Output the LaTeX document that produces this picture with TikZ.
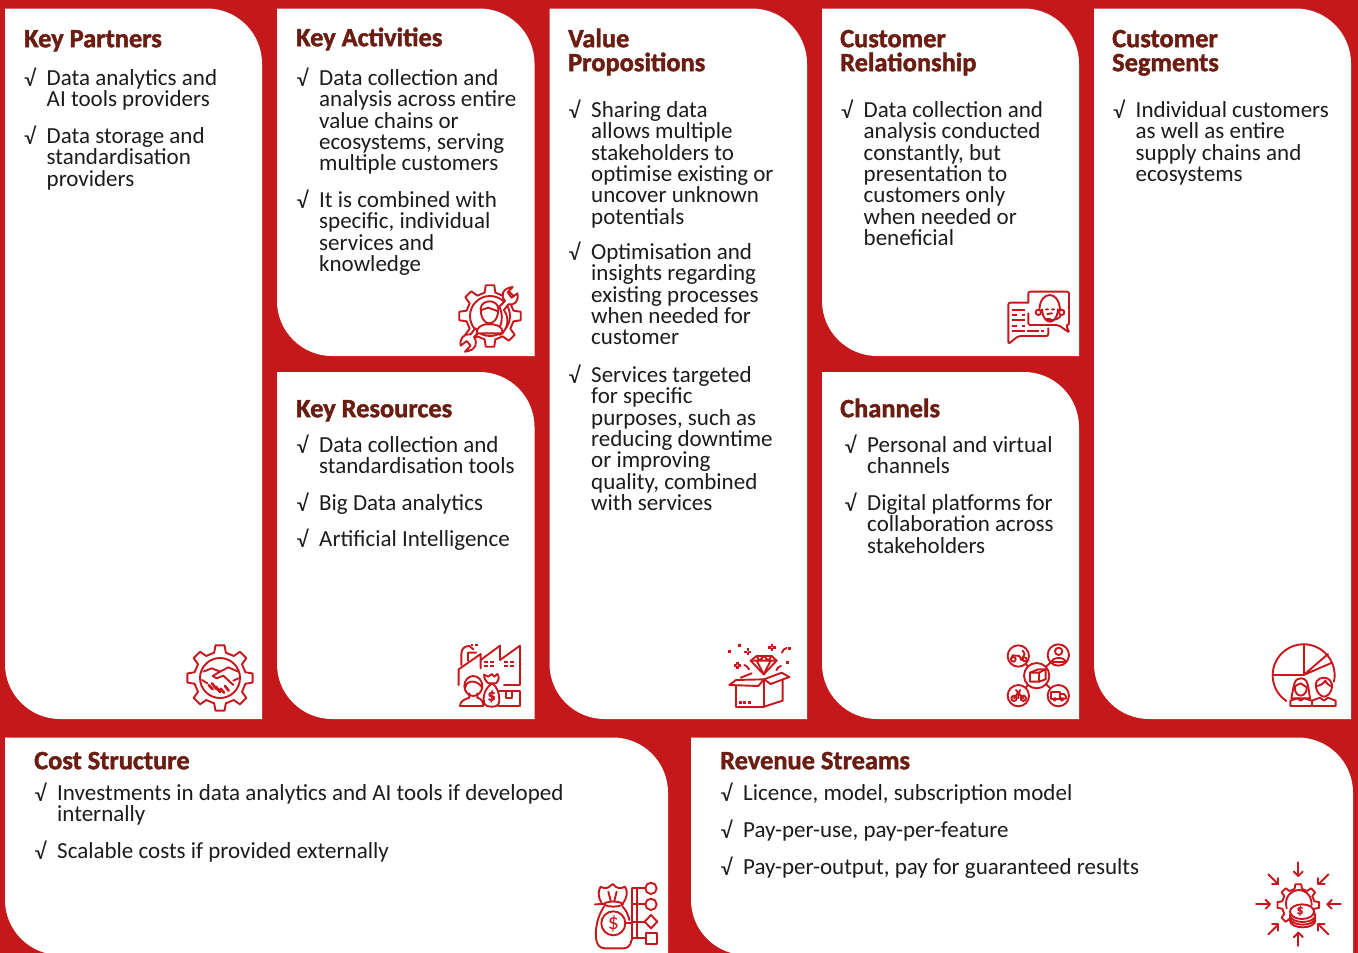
\documentclass[tikz,border=0pt]{standalone}
\usepackage{fontspec}
\setmainfont{Carlito}[BoldFeatures={FakeBold=1.6}]
\definecolor{canvasred}{HTML}{C5181A}
\definecolor{headbrown}{HTML}{6B1D12}
\definecolor{bodyink}{HTML}{1C1C1C}
\definecolor{iconred}{HTML}{C8171C}
\tikzset{
  headtext/.style={anchor=north west,inner sep=0pt,align=left,text=headbrown,font=\fontsize{26.4}{24}\selectfont\bfseries},
  itemtext/.style={anchor=north west,inner sep=0pt,align=left,text=bodyink,font=\fontsize{23}{21.4}\selectfont},
  ic/.style={draw=iconred,line width=1.9pt,line join=round,line cap=round},
  icf/.style={fill=iconred,draw=none},
  icw/.style={draw=iconred,fill=white,line width=1.9pt,line join=round,line cap=round},
}
% panel with rounded top-right and bottom-left corners
\newcommand\panel[5]{%
 \fill[white] (#1,#2) -- ({#3-#5},#2) .. controls ({#3-0.45*#5},#2) and (#3,{#2+0.45*#5}) .. (#3,{#2+#5})
   -- (#3,#4) -- ({#1+#5},#4) .. controls ({#1+0.45*#5},#4) and (#1,{#4-0.45*#5}) .. (#1,{#4-#5}) -- cycle;}
\newcommand\headnode[4]{\node[headtext] (#1) at (#2,{#3-19}) {\rule{0pt}{19pt}#4};}
\newcommand\itemnode[4]{%
 \node[itemtext] (#1c) at ({#2-22.5},{#3-17}) {\rule{0pt}{17pt}√};
 \node[itemtext] (#1) at (#2,{#3-17}) {\rule{0pt}{17pt}#4};}
% gear outline: centre is origin of current scope; r-out, r-in, teeth
\newcommand\gearline[3]{%
 \pgfmathsetmacro\gstep{360/#3}\pgfmathsetmacro\gq{\gstep/4}%
 \draw[ic] ({\gstep-\gq*0.7}:#1) \foreach \k in {1,...,#3}{
   -- ({\k*\gstep-\gq*0.7}:#1) -- ({\k*\gstep+\gq*0.7}:#1) -- ({\k*\gstep+\gq*1.15}:#2) -- ({\k*\gstep+\gstep-\gq*1.15}:#2)
 } -- cycle;}
\begin{document}
\begin{tikzpicture}[x=1pt,y=-1pt]
\useasboundingbox (0,0) rectangle (1358,953);
\fill[canvasred] (0,0) rectangle (1358,953);
\begin{scope}
\clip (0,0) rectangle (1358,953);
\panel{5}{8.5}{262}{719}{55}
\panel{277}{8.5}{534.5}{356}{55}
\panel{277}{372}{534.5}{719}{55}
\panel{549.5}{8.5}{807}{719}{55}
\panel{822}{8.5}{1079}{356}{55}
\panel{822}{372}{1079}{719}{55}
\panel{1094}{8.5}{1351}{719}{55}
\panel{5}{737.5}{668}{955}{55}
\panel{691}{737.5}{1353}{955}{55}
\end{scope}

% ---------- texts
\headnode{kp}{24}{47}{Key Partners}
\itemnode{kpa}{46.5}{85}{Data analytics and\\AI tools providers}
\itemnode{kpb}{46.5}{143}{Data storage and\\standardisation\\providers}

\headnode{ka}{296}{46}{Key Activities}
\itemnode{kaa}{319}{85}{Data collection and\\analysis across entire\\value chains or\\ecosystems, serving\\multiple customers}
\itemnode{kab}{319}{207}{It is combined with\\specific, individual\\services and\\knowledge}

\headnode{kr}{296}{417}{Key Resources}
\itemnode{kra}{319}{452}{Data collection and\\standardisation tools}
\itemnode{krb}{319}{510}{Big Data analytics}
\itemnode{krc}{319}{546}{Artificial Intelligence}

\headnode{vp}{568}{47}{Value\\Propositions}
\itemnode{vpa}{591}{117}{Sharing data\\allows multiple\\stakeholders to\\optimise existing or\\uncover unknown\\potentials}
\itemnode{vpb}{591}{259}{Optimisation and\\insights regarding\\existing processes\\when needed for\\customer}
\itemnode{vpc}{591}{382}{Services targeted\\for specific\\purposes, such as\\reducing downtime\\or improving\\quality, combined\\with services}

\headnode{cr}{840}{47}{Customer\\Relationship}
\itemnode{cra}{863.5}{117}{Data collection and\\analysis conducted\\constantly, but\\presentation to\\customers only\\when needed or\\beneficial}

\headnode{ch}{840}{417}{Channels}
\itemnode{cha}{867}{452}{Personal and virtual\\channels}
\itemnode{chb}{867}{510}{Digital platforms for\\collaboration across\\stakeholders}

\headnode{cs}{1112}{47}{Customer\\Segments}
\itemnode{csa}{1135.5}{117}{Individual customers\\as well as entire\\supply chains and\\ecosystems}

\headnode{co}{34}{769}{Cost Structure}
\itemnode{coa}{57}{800}{Investments in data analytics and AI tools if developed\\internally}
\itemnode{cob}{57}{858}{Scalable costs if provided externally}

\headnode{re}{720}{769}{Revenue Streams}
\itemnode{rea}{743}{800}{Licence, model, subscription model}
\itemnode{reb}{743}{837}{Pay-per-use, pay-per-feature}
\itemnode{rec}{743}{874}{Pay-per-output, pay for guaranteed results}

% ---------- icon: gear + handshake
\begin{scope}[shift={(220,678)}]
 \gearline{33}{26}{8}
 \draw[ic] (0,0) circle (20);
\end{scope}
\begin{scope}[shift={(170,630)},x=0.3333pt,y=-0.3333pt]
 \draw[ic] (100,125) -- (125,115) -- (150,125) -- (175,112) -- (205,125);
 \draw[ic] (150,125) -- (128,138) -- (140,145) -- (160,137) -- (190,165);
 \draw[ic] (205,145) -- (190,152);
 \draw[ic] (96,150) -- (112,160);
 \draw[ic,line width=2.6pt] (116,165) -- (128,178) (126,160) -- (140,178) (138,170) -- (150,186) (152,176) -- (162,188) (165,168) -- (176,182);
\end{scope}

% ---------- icon: gear, wrench, person
\begin{scope}[shift={(490,316)}]
 \gearline{31}{24}{8}
 \draw[ic,fill=white] (0,0) circle (20);
\end{scope}
\begin{scope}[shift={(440,275)},x=0.3333pt,y=-0.3333pt]
 \draw[icw] (178,95) -- (195,78) .. controls (180,60) and (190,42) .. (208,38) -- (218,36) -- (203,52) -- (215,68) -- (232,55) .. controls (238,80) and (222,92) .. (205,88) -- (192,105) .. controls (215,140) and (195,170) .. (180,180) -- (170,170) .. controls (188,150) and (190,120) .. (178,95) -- cycle;
 \draw[icw] (118,170) -- (102,186) .. controls (115,205) and (105,225) .. (85,228) -- (75,230) -- (92,212) -- (80,198) -- (62,212) .. controls (58,190) and (72,175) .. (92,178) -- (106,160) -- cycle;
 \draw[icw] (122,100) .. controls (125,72) and (172,72) .. (175,100) .. controls (175,130) and (162,145) .. (148,145) .. controls (134,145) and (122,130) .. (122,100) -- cycle;
 \draw[ic] (124,105) -- (145,98) -- (172,108);
 \draw[icw] (110,175) .. controls (110,155) and (125,152) .. (135,148) -- (160,148) .. controls (175,152) and (188,155) .. (188,175) -- cycle;
\end{scope}

% ---------- icon: factory, person, bag, box
\begin{scope}[shift={(440,630)},x=0.3333pt,y=-0.3333pt]
 \draw[ic] (56,165) -- (56,118) -- (122,72) -- (122,115);
 \draw[ic] (122,90) -- (180,47) -- (180,90) -- (240,47) -- (240,165) -- (192,165);
 \draw[ic] (64,105) -- (64,72) .. controls (64,55) and (75,48) .. (88,48) -- (100,58) (84,92) -- (84,68) -- (108,68);
 \foreach \p in {(96,45),(109,45)} \fill[iconred] \p ++(-3.5,-3.5) rectangle ++(7,7);
 \foreach \p in {(139,97),(157,97),(139,109),(157,109),(198,97),(216,97),(198,109),(216,109)} \fill[iconred] \p ++(-6,-3) rectangle ++(12,6);
 \draw[icw] (175,183) rectangle (240,228);
 \draw[ic] (198,183) -- (198,205) -- (215,205) -- (215,183);
 \draw[ic] (100,168) circle (27 and 30);
 \draw[ic] (76,172) .. controls (80,148) and (112,150) .. (126,172);
 \draw[ic] (88,190) -- (88,203) .. controls (75,208) and (60,212) .. (60,228) -- (130,228) (112,190) -- (112,203) .. controls (122,206) and (130,212) .. (130,228);
 \draw[icw] (155,161) .. controls (135,175) and (127,200) .. (132,218) .. controls (135,228) and (145,230) .. (158,230) .. controls (172,230) and (178,222) .. (178,210) .. controls (178,190) and (172,172) .. (158,161) -- cycle;
 \draw[ic] (146,160) -- (168,160) .. controls (178,150) and (178,140) .. (172,132) -- (163,140) -- (155,132) -- (145,140) -- (132,134) .. controls (132,145) and (138,155) .. (146,160);
 \node[inner sep=0pt,text=iconred,font=\fontsize{16}{16}\selectfont\bfseries] (bagdollar) at (155,199) {\$};
\end{scope}

% ---------- icon: open box + diamond
\begin{scope}[shift={(710,630)},x=0.3333pt,y=-0.3333pt]
 \draw[ic] (78,168) -- (78,230) -- (162,230) -- (162,148);
 \draw[ic] (162,230) -- (218,212) -- (218,150);
 \draw[ic] (58,165) -- (78,150) -- (162,148) -- (145,168) -- cycle;
 \draw[ic] (162,148) -- (215,128) -- (238,141) -- (182,162) -- cycle;
 \draw[ic] (92,143) -- (125,130);
 \foreach \p in {(91,217),(104,217),(118,217)} \fill[iconred] \p ++(-4,-4) rectangle ++(8,8);
 \draw[ic] (122,92) -- (140,78) -- (185,78) -- (200,92) -- (161,133) -- cycle;
 \draw[ic] (122,92) -- (200,92) (140,92) -- (161,133) -- (182,92) (140,78) -- (148,92) -- (162,78) -- (175,92) -- (185,78);
 \foreach \p in {(113,65),(186,52),(82,106)}{
  \fill[iconred] \p ++(-11,-3.5) rectangle ++(22,7);
  \fill[iconred] \p ++(-3.5,-11) rectangle ++(7,22);
  \fill[white] \p circle (2.5);
 }
 \foreach \p in {(58,65),(88,46),(238,55),(232,97)} \fill[iconred] \p ++(-4.5,-4.5) rectangle ++(9,9);
 \draw[ic] (216,68) .. controls (218,60) and (222,56) .. (230,54);
 \draw[ic] (103,105) .. controls (110,107) and (115,112) .. (117,118);
 \draw[ic] (199,121) .. controls (201,114) and (206,110) .. (213,108);
\end{scope}

% ---------- icon: speech bubbles
\begin{scope}[shift={(990,280)},x=0.3333pt,y=-0.3333pt]
 \draw[ic,rounded corners=2pt] (115,68) -- (115,35) -- (237,35) -- (237,135) -- (228,135) -- (238,158) -- (205,135) -- (115,135) -- (115,100);
 \draw[ic,rounded corners=2pt] (115,68) -- (55,68) -- (55,192) -- (85,168) -- (175,168) -- (175,145);
 \foreach \a/\b/\y in {65/105/90,65/80/105,65/105/120,65/80/137,95/105/137,65/105/153,110/148/153,153/162/153,95/105/105} \fill[iconred] (\a,\y-3) rectangle (\b,\y+3);
 \draw[ic] (148,90) .. controls (150,30) and (208,30) .. (210,90);
 \draw[ic] (156,88) .. controls (158,115) and (170,125) .. (180,125) .. controls (190,125) and (202,115) .. (204,88);
 \draw[ic] (145,97) circle (8) (215,97) circle (8);
 \draw[ic] (168,88) -- (174,88) (186,88) -- (192,88) (172,102) -- (186,100);
 \draw[ic] (213,105) .. controls (210,116) and (195,120) .. (182,120);
 \fill[iconred] (168,115) rectangle (184,124);
\end{scope}

% ---------- icon: channels network
\begin{scope}[shift={(990,630)},x=0.3333pt,y=-0.3333pt]
 \coordinate (hub) at (140,137);
 \coordinate (sa) at (85,78);
 \coordinate (sb) at (205,75);
 \coordinate (sc) at (85,197);
 \coordinate (sd) at (205,197);
 \foreach \s in {sa,sb,sc,sd} { \draw[ic] (hub) -- (\s); \draw[icw] (\s) circle (32); }
 \draw[icw] (hub) circle (38);
 \draw[ic] (120,128) -- (145,118) -- (167,118) -- (167,148) -- (147,155) -- (120,155) -- cycle;
 \draw[ic] (120,128) -- (147,128) -- (147,155) (147,128) -- (167,118);
 % moped
 \draw[ic] (70,88) circle (7) (104,88) circle (6);
 \draw[ic] (62,88) -- (68,76) -- (88,78) -- (94,90) -- (104,72) -- (98,62);
 % person
 \draw[ic] (206,64) circle (11);
 \draw[ic] (185,96) .. controls (187,80) and (225,80) .. (227,96) -- cycle;
 % bicycle
 \draw[ic] (72,205) circle (8) (100,205) circle (8);
 \draw[ic] (72,205) -- (84,188) -- (100,205) (84,188) -- (78,180) (90,180) -- (84,205);
 % truck
 \draw[ic] (184,186) rectangle (210,206);
 \draw[ic] (210,192) -- (222,192) -- (228,200) -- (228,206) -- (210,206);
 \draw[ic] (194,208) circle (4) (216,208) circle (4);
\end{scope}

% ---------- icon: pie + customers
\begin{scope}[shift={(1258,630)},x=0.3333pt,y=-0.3333pt]
 \coordinate (piec) at (137,135);
 \draw[ic] (85,213) arc[start angle=124,end angle=372,radius=93];
 \draw[ic] (45,135) -- (piec) -- (137,42);
 \draw[ic] (piec) -- (210,72) (piec) -- (222,98);
 \draw[icw] (128,145) .. controls (108,145) and (108,165) .. (100,205) -- (156,205) .. controls (150,165) and (150,145) .. (128,145) -- cycle;
 \draw[ic] (128,197) .. controls (112,197) and (108,175) .. (112,168) -- (128,160) .. controls (135,166) and (145,170) .. (146,172) .. controls (148,182) and (140,197) .. (128,197);
 \draw[icw] (97,228) -- (97,212) -- (118,205) -- (128,212) -- (138,205) -- (162,212) -- (162,228) -- cycle;
 \draw[icw] (198,143) .. controls (178,143) and (170,160) .. (174,172) .. controls (176,188) and (190,200) .. (198,200) .. controls (208,200) and (220,188) .. (222,172) .. controls (224,160) and (216,143) .. (198,143) -- cycle;
 \draw[ic] (174,168) .. controls (185,168) and (198,160) .. (202,152) .. controls (206,162) and (215,168) .. (222,170);
 \draw[icw] (162,228) -- (162,212) -- (186,203) -- (198,212) -- (210,203) -- (233,212) -- (233,228) -- cycle;
\end{scope}

% ---------- icon: cost bag + tree
\begin{scope}[shift={(580,870)},x=0.3333pt,y=-0.3333pt]
 \draw[ic] (65,98) .. controls (52,80) and (55,60) .. (62,50) .. controls (75,58) and (85,55) .. (98,42) .. controls (110,55) and (120,58) .. (135,50) .. controls (145,65) and (140,85) .. (130,98);
 \draw[ic] (85,65) -- (92,92) (110,65) -- (103,92);
 \draw[ic] (70,102) .. controls (85,92) and (115,92) .. (130,102);
 \draw[ic] (72,104) .. controls (85,112) and (115,112) .. (128,104);
 \draw[ic] (70,102) -- (45,103) (72,110) .. controls (55,135) and (45,170) .. (48,205) .. controls (50,225) and (60,235) .. (75,235) -- (130,235) .. controls (145,235) and (152,225) .. (154,212);
 \draw[ic] (128,110) .. controls (138,120) and (145,135) .. (148,150);
 \draw[ic] (100,160) circle (36);
 \node[inner sep=0pt,text=iconred,font=\fontsize{22}{22}\selectfont] (costdollar) at (100,160) {\$};
 \draw[ic] (136,160) -- (157,160);
 \draw[ic] (157,55) -- (157,210) (172,55) -- (172,205);
 \draw[ic] (157,55) -- (196,55) (157,103) -- (196,103) (157,155) -- (193,155) (157,205) -- (197,205);
 \draw[ic] (213,55) circle (17) (213,103) circle (17);
 \draw[ic] (213,135) -- (232,155) -- (213,175) -- (194,155) -- cycle;
 \draw[ic] (197,190) rectangle (230,222);
\end{scope}

% ---------- icon: revenue gear, coins, arrows
\begin{scope}[shift={(1240,850)},x=0.3333pt,y=-0.3333pt]
 \foreach \a/\b/\c/\d in {175/37/175/78,175/288/175/248,48/163/90/163,302/163/262/163,85/73/115/103,265/73/235/103,85/253/115/223,265/253/235/223}{
   \draw[ic] (\a,\b) -- (\c,\d);
   \pgfmathsetmacro\ang{atan2(\d-\b,\c-\a)}
   \draw[ic] ({\c+19*cos(\ang+135)},{\d+19*sin(\ang+135)}) -- (\c,\d) -- ({\c+19*cos(\ang-135)},{\d+19*sin(\ang-135)});
 }
\end{scope}
\begin{scope}[shift={(1298.3,905)}]
 \gearline{21}{16.5}{8}
\end{scope}
\begin{scope}[shift={(1240,850)},x=0.3333pt,y=-0.3333pt]
 \draw[ic] (140,175) .. controls (130,135) and (160,120) .. (178,120) .. controls (195,120) and (215,135) .. (215,165);
 \foreach \y in {212,204,196} \draw[icw] (188,\y) ellipse (38 and 20);
 \draw[icw] (186,185) ellipse (36 and 22);
 \node[inner sep=0pt,text=iconred,font=\fontsize{13}{13}\selectfont\bfseries] (coindollar) at (180,182) {\$};
\end{scope}
\end{tikzpicture}
\end{document}
